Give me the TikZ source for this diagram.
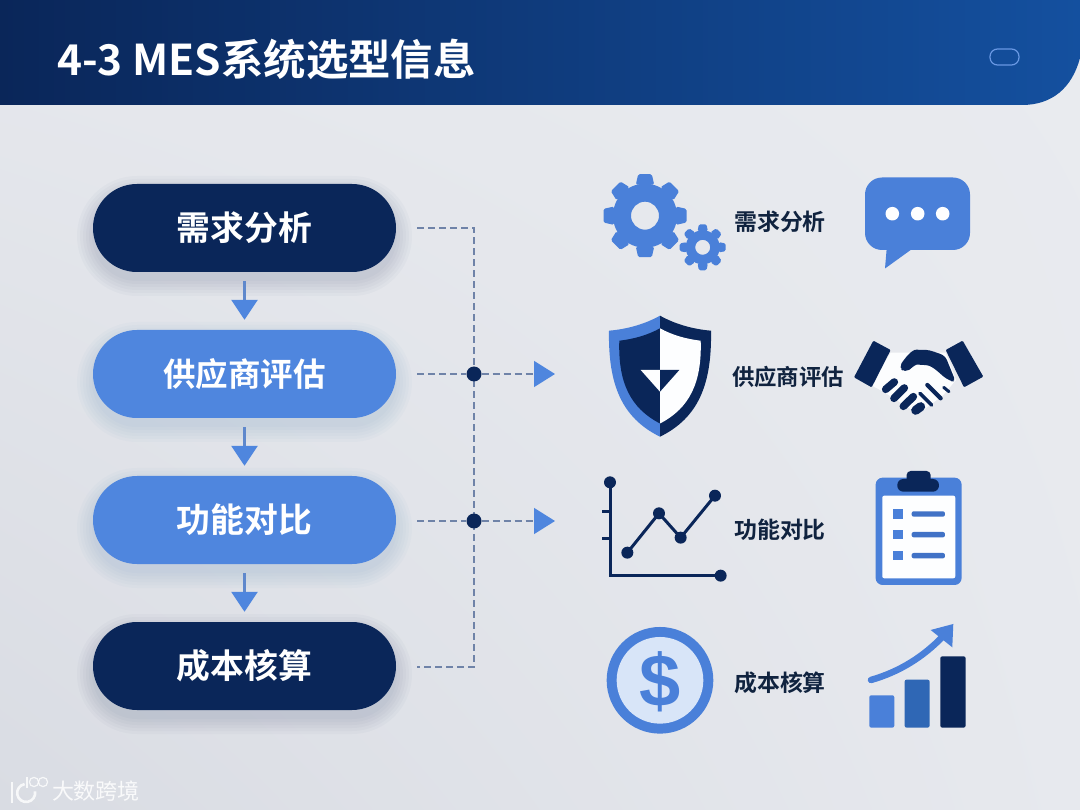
\documentclass[tikz,border=0pt]{standalone}
\usepackage{fontspec}
\setmainfont{Noto Sans CJK SC}
\newfontfamily\cjkbold{Noto Sans CJK SC Bold}
\newfontfamily\dollarfont{Liberation Sans Bold}
\usetikzlibrary{shapes.misc,arrows.meta,calc,shadings}
\pgfdeclarelayer{lines}
\pgfsetlayers{lines,main}
\definecolor{navy}{HTML}{0A2659}
\definecolor{blueA}{HTML}{4F86DE}
\definecolor{blueB}{HTML}{2F67B5}
\definecolor{iconblue}{HTML}{4A80D9}
\definecolor{paleblue}{HTML}{D8E5F8}
\definecolor{dashc}{HTML}{6F83A8}
\definecolor{shaftc}{HTML}{5F88CC}
\definecolor{inkc}{HTML}{10233F}
\definecolor{bgll}{HTML}{D9DCE3}
\definecolor{bgul}{HTML}{E6E8ED}
\definecolor{bgur}{HTML}{E9EBEF}
\definecolor{bglr}{HTML}{E7E9EE}
\definecolor{headr}{HTML}{14509F}
\tikzset{
  pillnode/.style={rounded rectangle,minimum width=303pt,minimum height=88pt,inner sep=0pt,text=white,font=\cjkbold\fontsize{33.8}{33.8}\selectfont},
  pilldark/.style={pillnode,fill=navy},
  pilllight/.style={pillnode,fill=blueA},
  labelnode/.style={inner sep=0pt,text=inkc,font=\cjkbold\fontsize{22.9}{22.9}\selectfont},
  dashline/.style={draw=dashc,line width=1.5pt,dash pattern=on 7pt off 4pt},
  flowarrow/.style={draw=shaftc,line width=3pt,shorten <=9pt,shorten >=10pt,-{Triangle[length=20pt,width=26pt,fill=blueA,color=blueA]}},
  sidearrow/.style={dashline,-{Triangle[length=21pt,width=26pt,fill=blueA,color=blueA,sep=0pt]}},
  junction/.style={circle,fill=navy,minimum size=15pt,inner sep=0pt},
  chartline/.style={draw=navy,line width=3pt},
  chartdot/.style={circle,fill=navy,minimum size=12pt,inner sep=0pt},
}
% #1 cx #2 cy #3 body radius #4 outer radius #5 hole radius #6 tooth half width
\newcommand{\geardraw}[6]{%
  \fill[iconblue,even odd rule] (#1,#2) circle[radius=#3] (#1,#2) circle[radius=#5];
  \foreach \a in {0,45,...,315}{
    \fill[iconblue,shift={(#1,#2)},rotate=\a,rounded corners=1.5pt]
      (#3-1,-#6*1.15) -- (#4,-#6*0.85) -- (#4,#6*0.85) -- (#3-1,#6*1.15) -- cycle;
  }%
}
\newcommand{\pillshadow}[3]{%
  \foreach \g in {16,13,10,7,4,1}{
    \fill[#3,opacity=0.022,rounded corners={(44+\g)*1pt}]
      ({93-\g},{#1+8-\g}) rectangle ({396+\g},{#2+8+\g});
  }%
}
\begin{document}
\begin{tikzpicture}[x=1pt,y=-1pt]
\useasboundingbox (0,0) rectangle (1080,810);
% background
\begin{pgfonlayer}{lines}
\shade[lower left=bgll,upper left=bgul,upper right=bgur,lower right=bglr]
  (0,0) rectangle (1080,810);
\end{pgfonlayer}
% header
\shade[left color=navy,right color=headr]
  (0,0) -- (1080,0) -- (1080,58) .. controls (1072,88) and (1052,105) .. (1022,105) -- (0,105) -- cycle;
\node[anchor=west,inner sep=0pt,text=white,font=\cjkbold\fontsize{42.4}{42.4}\selectfont] (title) at (57,59) {4-3 MES系统选型信息};
\draw[draw=blueA!85!white,line width=1.2pt,rounded corners=7.5pt] (990,49) rectangle (1019,65);
% shadows
\pillshadow{184}{272}{navy}
\pillshadow{330}{418}{blueB}
\pillshadow{476}{564}{blueB}
\pillshadow{622}{710}{navy}
% pills
\node[pilldark]  (n1) at (244.5,228) {需求分析};
\node[pilllight,font=\cjkbold\fontsize{32.5}{32.5}\selectfont] (n2) at (244.5,374) {供应商评估};
\node[pilllight] (n3) at (244.5,520) {功能对比};
\node[pilldark]  (n4) at (244.5,666) {成本核算};
\draw[flowarrow] (n1.south) -- (n2.north);
\draw[flowarrow] (n2.south) -- (n3.north);
\draw[flowarrow] (n3.south) -- (n4.north);
% connectors
\coordinate (c1) at (474,228);
\coordinate (c4) at (474,667);
\node[junction] (j2) at (474,374) {};
\node[junction] (j3) at (474,521) {};
\coordinate (h2) at (555,374);
\coordinate (h3) at (555,521);
\begin{pgfonlayer}{lines}
\draw[dashline] ($(n1.east)+(21,0)$) -- (c1) -- (c4) -- ($(n4.east |- c4)+(21,0)$);
\draw[dashline,shorten <=21pt] (n2.east) -- (j2);
\draw[dashline,shorten <=21pt] (n3.east |- j3) -- (j3);
\end{pgfonlayer}
\draw[sidearrow] (j2) -- (h2);
\draw[sidearrow] (j3) -- (h3);
% gears
\geardraw{645}{215.7}{32}{41.5}{14}{8}
\geardraw{702.7}{247.3}{17}{23}{7.5}{4.5}
\node[labelnode] (l1) at (780,222) {需求分析};
% chat bubble
\fill[iconblue,rounded corners=17pt] (865,177.5) rectangle (970,250);
\fill[iconblue] (887,245) -- (885,268.5) -- (912,249) -- cycle;
\foreach \x in {892.3,917.7,942.7}{\fill[white!95!paleblue] (\x,213.7) circle[radius=6.8];}
% shield
\fill[iconblue] (660,315.7) .. controls (645,324) and (628,329) .. (609,330.7)
  .. controls (608,385) and (622,418) .. (660,436.7) -- cycle;
\fill[navy] (660,315.7) .. controls (675,324) and (692,329) .. (711,330.7)
  .. controls (712,385) and (698,418) .. (660,436.7) -- cycle;
\fill[navy] (660,328.3) .. controls (648,335) and (634,339) .. (619.3,340.7)
  .. controls (618,382) and (630,408) .. (660,423.5) -- cycle;
\fill[white!96!paleblue] (660,328.3) .. controls (672,335) and (686,339) .. (700.7,340.7)
  .. controls (702,382) and (690,408) .. (660,423.5) -- cycle;
\fill[white!96!paleblue] (640.7,370) -- (660,370) -- (660,391.7) -- cycle;
\fill[navy] (660,370) -- (679.3,370) -- (660,391.7) -- cycle;
\node[labelnode,font=\cjkbold\fontsize{22.4}{22.4}\selectfont] (l2) at (788,377) {供应商评估};
% handshake
\begin{scope}[shift={(850,330)},x=0.3333pt,y=-0.3333pt]
  \fill[white!92!paleblue] (122,68) -- (287,68) -- (318,150) -- (280,195) -- (205,252) -- (100,185) -- (62,165) -- cycle;
  \fill[navy,rounded corners=1pt] (70,32) -- (122,60) -- (65,172) -- (12,142) -- cycle;
  \fill[navy,rounded corners=1pt] (338,32) -- (400,140) -- (342,172) -- (287,60) -- cycle;
  \fill[navy,rounded corners=5pt] (146,112) .. controls (165,85) and (185,58) .. (215,60)
     .. controls (240,60) and (265,70) .. (285,76) -- (318,157) -- (298,152)
     .. controls (270,132) and (250,108) .. (215,104) .. controls (195,104) and (180,118) .. (165,128) -- cycle;
  \draw[navy,line width=7.6pt,line cap=round] (107,178) -- (133,156);
  \draw[navy,line width=7.6pt,line cap=round] (132,205) -- (163,174);
  \draw[navy,line width=7.6pt,line cap=round] (160,229) -- (190,200);
  \draw[navy,line width=9pt,line cap=round] (197,241) -- (212,230);
  \draw[navy,line width=3.6pt,line cap=round] (210,190) -- (245,225);
  \draw[navy,line width=4.2pt,line cap=round] (232,165) -- (272,205);
  \draw[navy,line width=3pt,line cap=round] (281,172) -- (297,185);
\end{scope}
\begin{scope}[shift={(590,460)},x=0.3333pt,y=-0.3333pt]
  % chart
  \draw[chartline] (60,67) -- (60,347) -- (392,347);
  \draw[chartline] (36,155) -- (58,155);
  \draw[chartline] (36,237) -- (58,237);
  \node[chartdot] (d1) at (60,67) {};
  \node[chartdot] (d2) at (392,347) {};
  \node[chartdot] (p1) at (112,278) {};
  \node[chartdot] (p2) at (207,160) {};
  \node[chartdot] (p3) at (272,233) {};
  \node[chartdot] (p4) at (375,107) {};
  \draw[chartline] (p1.center) -- (p2.center) -- (p3.center) -- (p4.center);
  % clipboard
  \fill[iconblue,rounded corners=7pt] (857,53) rectangle (1115,375);
  \fill[white!96!paleblue,rounded corners=2pt] (877,107) rectangle (1096,355);
  \fill[navy,rounded corners=4pt] (950,33) rectangle (1022,70);
  \fill[navy,rounded corners=6pt] (922,57) rectangle (1047,95);
  \foreach \r in {162,224,287}{
    \fill[iconblue] (908,\r-14) rectangle (938,\r+14);
    \fill[iconblue!85!navy,rounded corners=2pt] (965,\r-8) rectangle (1065,\r+8);
  }
  % coin
  \fill[iconblue] (210,661) circle[radius=160];
  \fill[paleblue] (210,661) circle[radius=130];
\end{scope}
\node[labelnode] (l3) at (780,530) {功能对比};
\node[inner sep=0pt,text=iconblue,font=\dollarfont\fontsize{74}{74}\selectfont] (dollar) at (660,682) {\$};
\node[labelnode] (l4) at (780,683) {成本核算};
% bars and arrow
\begin{scope}[shift={(590,460)},x=0.3333pt,y=-0.3333pt]
  \fill[iconblue,rounded corners=2pt] (838,706) rectangle (913,803);
  \fill[blueB,rounded corners=2pt] (944,659) rectangle (1019,803);
  \fill[navy,rounded corners=2pt] (1051,589) rectangle (1127,803);
  \draw[iconblue,line width=6.5pt,line cap=round] (843,660) .. controls (930,635) and (1000,590) .. (1058,530);
  \fill[iconblue] (1022,510) -- (1090,492) -- (1087,562) -- cycle;
\end{scope}
% watermark
\begin{scope}[white,opacity=0.8]
  \draw[line width=2.8pt] (12,782) -- (12,803);
  \draw[line width=2.6pt] (24.6,784.1) arc[start angle=260,end angle=-10,radius=9];
  \draw[line width=1.2pt] (27,777) -- (27,788);
  \draw[line width=1.2pt] (34,782) circle[radius=4.6];
  \draw[line width=1.2pt] (43,782) circle[radius=4.6];
\end{scope}
\node[inner sep=0pt,text=white,opacity=0.85,font=\fontsize{22}{22}\selectfont] (mark) at (96,791) {大数跨境};
\end{tikzpicture}
\end{document}
